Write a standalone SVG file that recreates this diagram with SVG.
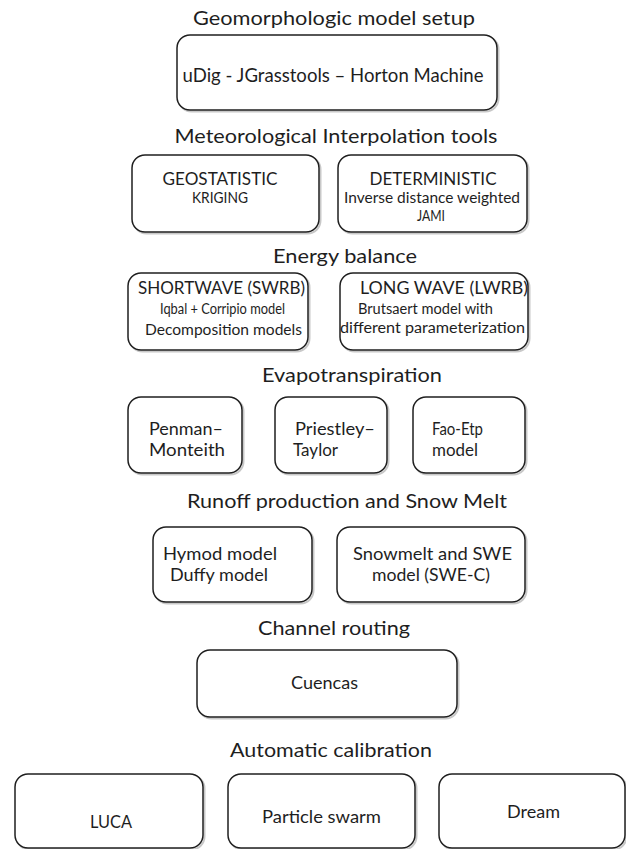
<svg xmlns="http://www.w3.org/2000/svg" width="626" height="849" viewBox="0 0 626 849">
<style>
text{font-family:Lato,"Open Sans","Liberation Sans",sans-serif;fill:#1e1e1e;text-anchor:middle}
.t{font-size:20px}
.b{font-size:17px}
.s{font-size:14.5px}
.l{text-anchor:start}
.box{fill:#fff;stroke:#1f1f1f;stroke-width:1.5}
.sh{fill:none;stroke:#c8c8c8;stroke-width:2}
</style>
<rect width="626" height="849" fill="#fff"/>
<g id="titles">
<text class="t" x="334" y="25" textLength="282" lengthAdjust="spacingAndGlyphs">Geomorphologic model setup</text>
<text class="t" x="336" y="143" textLength="323" lengthAdjust="spacingAndGlyphs">Meteorological Interpolation tools</text>
<text class="t" x="345" y="263" textLength="144" lengthAdjust="spacingAndGlyphs">Energy balance</text>
<text class="t" x="352" y="382" textLength="180" lengthAdjust="spacingAndGlyphs">Evapotranspiration</text>
<text class="t" x="347" y="508" textLength="320" lengthAdjust="spacingAndGlyphs">Runoff production and Snow Melt</text>
<text class="t" x="334" y="635" textLength="152" lengthAdjust="spacingAndGlyphs">Channel routing</text>
<text class="t" x="331" y="757" textLength="202" lengthAdjust="spacingAndGlyphs">Automatic calibration</text>
</g>
<g id="connectors"></g>
<g id="udig">
<rect class="sh" x="178.5" y="36.5" width="320" height="75" rx="13"/>
<rect class="box" x="177" y="35" width="320" height="75" rx="13"/>
<text class="t" x="333" y="82" textLength="301" lengthAdjust="spacingAndGlyphs">uDig - JGrasstools – Horton Machine</text>
</g>
<g id="geostatistic">
<rect class="sh" x="133.5" y="156.5" width="187" height="77" rx="13"/>
<rect class="box" x="132" y="155" width="187" height="77" rx="13"/>
<text class="b" x="220" y="184.5" textLength="115" lengthAdjust="spacingAndGlyphs">GEOSTATISTIC</text>
<text class="s" x="220" y="203" textLength="56" lengthAdjust="spacingAndGlyphs">KRIGING</text>
</g>
<g id="deterministic">
<rect class="sh" x="339.5" y="156.5" width="189" height="77" rx="13"/>
<rect class="box" x="338" y="155" width="189" height="77" rx="13"/>
<text class="b" x="433" y="184.5" textLength="127" lengthAdjust="spacingAndGlyphs">DETERMINISTIC</text>
<text class="s" x="432" y="203" textLength="176" lengthAdjust="spacingAndGlyphs">Inverse distance weighted</text>
<text class="s" x="431" y="220.5" textLength="28" lengthAdjust="spacingAndGlyphs">JAMI</text>
</g>
<g id="shortwave">
<rect class="sh" x="129.5" y="274.5" width="180" height="77" rx="13"/>
<rect class="box" x="128" y="273" width="180" height="77" rx="13"/>
<text class="b" x="221.5" y="294" textLength="167" lengthAdjust="spacingAndGlyphs">SHORTWAVE (SWRB)</text>
<text class="s" x="222.5" y="314" textLength="125" lengthAdjust="spacingAndGlyphs">Iqbal + Corripio model</text>
<text class="s" x="223.5" y="334.5" textLength="157" lengthAdjust="spacingAndGlyphs">Decomposition models</text>
</g>
<g id="longwave">
<rect class="sh" x="341.5" y="274.5" width="188" height="77" rx="13"/>
<rect class="box" x="340" y="273" width="188" height="77" rx="13"/>
<text class="b" x="444" y="294" textLength="168" lengthAdjust="spacingAndGlyphs">LONG WAVE (LWRB)</text>
<text class="s" x="425.5" y="314" textLength="135" lengthAdjust="spacingAndGlyphs">Brutsaert model with</text>
<text class="s" x="432.5" y="333" textLength="185" lengthAdjust="spacingAndGlyphs">different  parameterization</text>
</g>
<g id="penman">
<rect class="sh" x="129.5" y="398.5" width="114" height="76" rx="13"/>
<rect class="box" x="128" y="397" width="114" height="76" rx="13"/>
<text class="b l" x="149" y="434.5" textLength="74" lengthAdjust="spacingAndGlyphs">Penman–</text>
<text class="b l" x="149" y="456" textLength="76" lengthAdjust="spacingAndGlyphs">Monteith</text>
</g>
<g id="priestley">
<rect class="sh" x="276.5" y="398.5" width="112" height="76" rx="13"/>
<rect class="box" x="275" y="397" width="112" height="76" rx="13"/>
<text class="b l" x="295" y="434.5" textLength="80" lengthAdjust="spacingAndGlyphs">Priestley–</text>
<text class="b l" x="293" y="456" textLength="45" lengthAdjust="spacingAndGlyphs">Taylor</text>
</g>
<g id="faoetp">
<rect class="sh" x="414.5" y="398.5" width="112" height="76" rx="13"/>
<rect class="box" x="413" y="397" width="112" height="76" rx="13"/>
<text class="b l" x="432" y="434.5" textLength="51" lengthAdjust="spacingAndGlyphs">Fao-Etp</text>
<text class="b l" x="432" y="456" textLength="46" lengthAdjust="spacingAndGlyphs">model</text>
</g>
<g id="hymod">
<rect class="sh" x="154.5" y="528.5" width="159" height="75" rx="13"/>
<rect class="box" x="153" y="527" width="159" height="75" rx="13"/>
<text class="b" x="220" y="559.5" textLength="114" lengthAdjust="spacingAndGlyphs">Hymod model</text>
<text class="b" x="219" y="581" textLength="98" lengthAdjust="spacingAndGlyphs">Duffy model</text>
</g>
<g id="snowmelt">
<rect class="sh" x="338.5" y="528.5" width="188" height="75" rx="13"/>
<rect class="box" x="337" y="527" width="188" height="75" rx="13"/>
<text class="b" x="432.5" y="559.5" textLength="159" lengthAdjust="spacingAndGlyphs">Snowmelt and SWE</text>
<text class="b" x="431" y="581" textLength="118" lengthAdjust="spacingAndGlyphs">model (SWE-C)</text>
</g>
<g id="cuencas">
<rect class="sh" x="198.5" y="651.5" width="260" height="67" rx="13"/>
<rect class="box" x="197" y="650" width="260" height="67" rx="13"/>
<text class="b" x="324.5" y="689" textLength="67" lengthAdjust="spacingAndGlyphs">Cuencas</text>
</g>
<g id="luca">
<rect class="sh" x="16.5" y="775.5" width="188" height="74" rx="13"/>
<rect class="box" x="15" y="774" width="188" height="74" rx="13"/>
<text class="b" x="111" y="828" textLength="42" lengthAdjust="spacingAndGlyphs">LUCA</text>
</g>
<g id="particle">
<rect class="sh" x="229.5" y="775.5" width="187" height="74" rx="13"/>
<rect class="box" x="228" y="774" width="187" height="74" rx="13"/>
<text class="b" x="321.5" y="823" textLength="119" lengthAdjust="spacingAndGlyphs">Particle swarm</text>
</g>
<g id="dream">
<rect class="sh" x="440.5" y="775.5" width="186" height="74" rx="13"/>
<rect class="box" x="439" y="774" width="186" height="74" rx="13"/>
<text class="b" x="533.5" y="818" textLength="53" lengthAdjust="spacingAndGlyphs">Dream</text>
</g>
</svg>
